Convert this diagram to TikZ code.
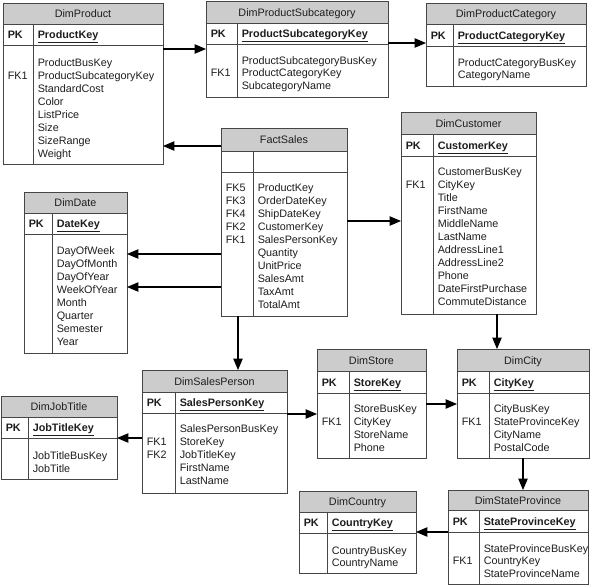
\documentclass[tikz,border=0pt]{standalone}
\usepackage{fontspec}
\setmainfont{Liberation Sans}
\usetikzlibrary{arrows.meta,fit}
\definecolor{hdrgray}{RGB}{204,204,204}
\definecolor{bord}{RGB}{70,70,70}
\definecolor{txtc}{RGB}{30,30,30}
\tikzset{
  every node/.style={font=\fontsize{8.1pt}{9.75pt}\selectfont, text=txtc},
  tline/.style={draw=bord, line width=0.75pt},
  tbox/.style={draw=bord, line width=0.75pt, inner sep=0pt, outer sep=0pt},
  txt/.style={anchor=base west, inner sep=0pt},
  ttl/.style={anchor=base, inner sep=0pt},
  conn/.style={draw=black, line width=0.8pt, -{Triangle[length=8.5pt,width=7pt]}},
}
% #1 name #2 x1 #3 y1 #4 x2 #5 y2 #6 header bottom #7 pk bottom #8 divider x #9 title
\newcommand\ertable[9]{%
  \def\curname{#1}\def\curxa{#2}\def\curdiv{#8}\def\curhdr{#6}\def\curpk{#7}%
  \fill[hdrgray] (#2,#3) rectangle (#4,#6);
  \draw[tline] (#2,#6) -- (#4,#6);
  \draw[tline] (#2,#7) -- (#4,#7);
  \draw[tline] (#8,#6) -- (#8,#5);
  \node[fit={(#2,#3)(#4,#5)}, tbox] (#1) {};
  \node[ttl] (#1-title) at ({(#2+#4)/2},{(#3+#6)/2+4}) {#9};
}
\newcommand\pkrow[1]{%
  \node[txt] (\curname-pk) at (\curxa+4.5,{(\curhdr+\curpk)/2+4}) {\textbf{PK}};
  \node[txt] (\curname-key) at (\curdiv+4.5,{(\curhdr+\curpk)/2+4}) {\textbf{\underline{#1}}};
}
\newcommand\fieldlist[3]{%
  \def\curfirst{#1}\def\curspace{#2}%
  \foreach \t [count=\i] in {#3}
    \node[txt] (\curname-f\i) at (\curdiv+4.5,{#1+#2*(\i-1)}) {\t};
}
\newcommand\fkrow[2]{%
  \node[txt] (\curname-fk#1) at (\curxa+4.5,{\curfirst+\curspace*(#1-1)}) {#2};
}
\begin{document}
\begin{tikzpicture}[x=0.75pt,y=-0.75pt]
\useasboundingbox (0,0) rectangle (600,586);
\fill[white] (0,0) rectangle (600,586);

\ertable{prod}{3}{3}{163}{164}{24}{45}{33}{DimProduct}
\pkrow{ProductKey}
\fieldlist{66}{13}{ProductBusKey,ProductSubcategoryKey,StandardCost,Color,ListPrice,Size,SizeRange,Weight}
\fkrow{2}{FK1}

\ertable{sub}{206}{1}{388}{97}{23}{44}{237}{DimProductSubcategory}
\pkrow{ProductSubcategoryKey}
\fieldlist{64}{12.5}{ProductSubcategoryBusKey,ProductCategoryKey,SubcategoryName}
\fkrow{2}{FK1}

\ertable{cat}{426}{3}{586}{86}{24}{46}{453}{DimProductCategory}
\pkrow{ProductCategoryKey}
\fieldlist{66}{12}{ProductCategoryBusKey,CategoryName}

\ertable{fact}{221}{128}{347}{316}{151}{172}{253}{FactSales}
\fieldlist{191}{13.1}{ProductKey,OrderDateKey,ShipDateKey,CustomerKey,SalesPersonKey,Quantity,UnitPrice,SalesAmt,TaxAmt,TotalAmt}
\fkrow{1}{FK5}\fkrow{2}{FK3}\fkrow{3}{FK4}\fkrow{4}{FK2}\fkrow{5}{FK1}

\ertable{cust}{401}{112}{536}{314}{134}{156}{433}{DimCustomer}
\pkrow{CustomerKey}
\fieldlist{175}{13}{CustomerBusKey,CityKey,Title,FirstName,MiddleName,LastName,AddressLine1,AddressLine2,Phone,DateFirstPurchase,CommuteDistance}
\fkrow{2}{FK1}

\ertable{date}{24}{192}{127}{353}{213}{234}{52}{DimDate}
\pkrow{DateKey}
\fieldlist{254}{13}{DayOfWeek,DayOfMonth,DayOfYear,WeekOfYear,Month,Quarter,Semester,Year}

\ertable{sp}{142}{370}{287}{493}{392}{413}{175}{DimSalesPerson}
\pkrow{SalesPersonKey}
\fieldlist{432}{13}{SalesPersonBusKey,StoreKey,JobTitleKey,FirstName,LastName}
\fkrow{2}{FK1}\fkrow{3}{FK2}

\ertable{store}{317}{349}{426}{458}{371}{393}{349}{DimStore}
\pkrow{StoreKey}
\fieldlist{412}{13}{StoreBusKey,CityKey,StoreName,Phone}
\fkrow{2}{FK1}

\ertable{city}{457}{349}{589}{458}{371}{393}{489}{DimCity}
\pkrow{CityKey}
\fieldlist{412}{13}{CityBusKey,StateProvinceKey,CityName,PostalCode}
\fkrow{2}{FK1}

\ertable{job}{1}{396}{117}{479}{417}{438}{28}{DimJobTitle}
\pkrow{JobTitleKey}
\fieldlist{459}{13}{JobTitleBusKey,JobTitle}

\ertable{country}{299}{491}{416}{573}{512}{533}{327}{DimCountry}
\pkrow{CountryKey}
\fieldlist{554}{12}{CountryBusKey,CountryName}

\ertable{state}{448}{490}{588}{584}{510}{532}{479}{DimStateProvince}
\pkrow{StateProvinceKey}
\fieldlist{552}{12.5}{StateProvinceBusKey,CountryKey,StateProvinceName}
\fkrow{2}{FK1}

\draw[conn] (prod.east |- 0,49) -- (sub.west |- 0,49);
\draw[conn] (sub.east |- 0,43) -- (cat.west |- 0,43);
\draw[conn] (fact.west |- 0,146) -- (prod.east |- 0,146);
\draw[conn] (fact.west |- 0,254) -- (date.east |- 0,254);
\draw[conn] (fact.west |- 0,287) -- (date.east |- 0,287);
\draw[conn] (fact.east |- 0,221) -- (cust.west |- 0,221);
\draw[conn] (fact.south -| 238,0) -- (sp.north -| 238,0);
\draw[conn] (cust.south -| 497,0) -- (city.north -| 497,0);
\draw[conn] (sp.east |- 0,414) -- (store.west |- 0,414);
\draw[conn] (sp.west |- 0,438) -- (job.east |- 0,438);
\draw[conn] (store.east |- 0,404) -- (city.west |- 0,404);
\draw[conn] (city.south -| 523,0) -- (state.north -| 523,0);
\draw[conn] (state.west |- 0,532) -- (country.east |- 0,532);
\end{tikzpicture}
\end{document}
